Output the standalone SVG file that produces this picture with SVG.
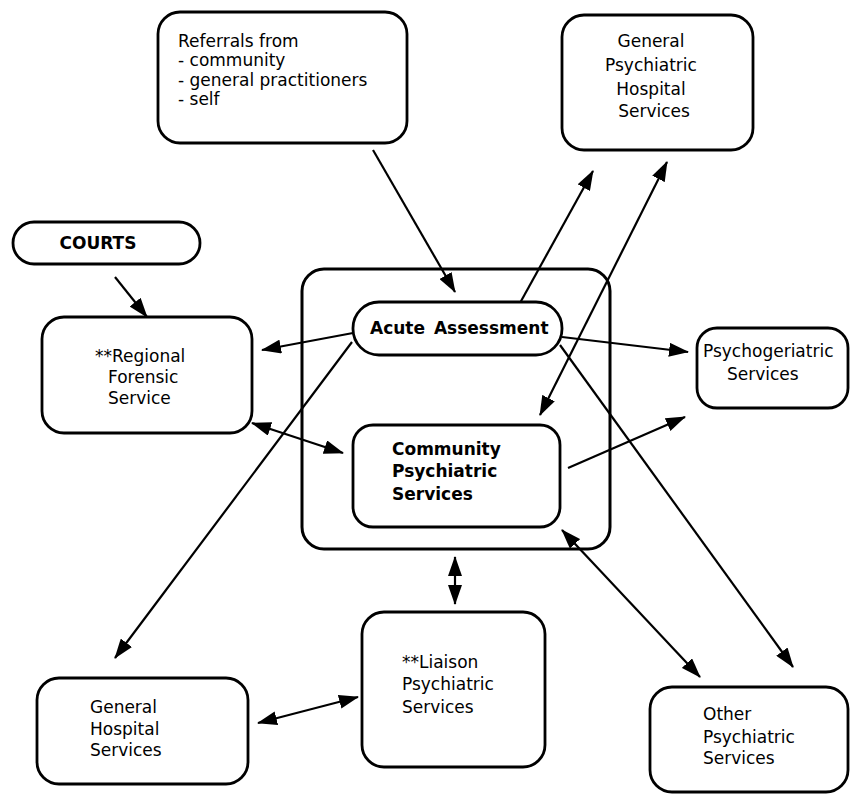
<svg xmlns="http://www.w3.org/2000/svg" width="851" height="794" viewBox="0 0 851 794">
<style>
.box{fill:#fff;stroke:#000;stroke-width:2.8}
.cont{fill:none;stroke:#000;stroke-width:3}
.t{font-family:"DejaVu Sans","Liberation Sans",sans-serif;font-size:17px;fill:#000}
.b{font-weight:bold}
.m{text-anchor:middle}
.c{fill:none;stroke:#000;stroke-width:2.2}
</style>
<defs>
<marker id="ah" markerUnits="userSpaceOnUse" markerWidth="20" markerHeight="14" refX="19" refY="7" orient="auto-start-reverse" viewBox="0 0 20 14">
<path d="M0,0 L20,7 L0,14 z" fill="#000"/>
</marker>
</defs>
<rect width="851" height="794" fill="#fff"/>
<g id="container"><rect class="cont" x="302" y="269" width="308" height="280" rx="22"/></g>
<g id="connectors">
<line class="c" x1="373" y1="150" x2="455" y2="292" marker-end="url(#ah)"/>
<line class="c" x1="520" y1="303" x2="593" y2="171" marker-end="url(#ah)"/>
<line class="c" x1="540" y1="415" x2="667" y2="162" marker-start="url(#ah)" marker-end="url(#ah)"/>
<line class="c" x1="353" y1="333" x2="262" y2="350" marker-end="url(#ah)"/>
<line class="c" x1="352" y1="342" x2="115" y2="658" marker-end="url(#ah)"/>
<line class="c" x1="252" y1="423" x2="343" y2="453" marker-start="url(#ah)" marker-end="url(#ah)"/>
<line class="c" x1="562" y1="337" x2="688" y2="352" marker-end="url(#ah)"/>
<line class="c" x1="568" y1="468" x2="685" y2="417" marker-end="url(#ah)"/>
<line class="c" x1="560" y1="345" x2="793" y2="667" marker-end="url(#ah)"/>
<line class="c" x1="562" y1="530" x2="700" y2="677" marker-start="url(#ah)" marker-end="url(#ah)"/>
<line class="c" x1="455" y1="557" x2="455" y2="604" marker-start="url(#ah)" marker-end="url(#ah)"/>
<line class="c" x1="258" y1="723" x2="358" y2="697" marker-start="url(#ah)" marker-end="url(#ah)"/>
<line class="c" x1="115" y1="277" x2="147" y2="317" marker-end="url(#ah)"/>
</g>
<g id="referrals"><rect class="box" x="158" y="12" width="249" height="131" rx="22"/>
<text class="t" x="178" y="47">Referrals from</text>
<text class="t" x="178" y="66">- community</text>
<text class="t" x="178" y="86">- general practitioners</text>
<text class="t" x="178" y="105">- self</text></g>
<g id="general-psychiatric-hospital"><rect class="box" x="562" y="15" width="191" height="135" rx="22"/>
<text class="t m" x="651" y="47">General</text>
<text class="t m" x="651" y="71">Psychiatric</text>
<text class="t m" x="651" y="95">Hospital</text>
<text class="t m" x="654" y="117">Services</text></g>
<g id="courts"><rect class="box" x="13" y="222" width="187" height="42" rx="21"/>
<text class="t m" x="98" y="249" font-weight="bold">COURTS</text></g>
<g id="regional-forensic"><rect class="box" x="42" y="317" width="210" height="116" rx="22"/>
<text class="t" x="95" y="362">**Regional</text>
<text class="t" x="108" y="383">Forensic</text>
<text class="t" x="108" y="404">Service</text></g>
<g id="acute-assessment"><rect class="box" x="353" y="302" width="209" height="53" rx="26"/>
<text class="t b" x="370" y="334" word-spacing="3">Acute Assessment</text></g>
<g id="community-psychiatric"><rect class="box" x="353" y="425" width="207" height="102" rx="20"/>
<text class="t b" x="392" y="455">Community</text>
<text class="t b" x="392" y="477">Psychiatric</text>
<text class="t b" x="392" y="500">Services</text></g>
<g id="psychogeriatric"><rect class="box" x="697" y="328" width="151" height="80" rx="20"/>
<text class="t" x="703" y="357">Psychogeriatric</text>
<text class="t" x="727" y="380">Services</text></g>
<g id="general-hospital"><rect class="box" x="37" y="678" width="211" height="106" rx="22"/>
<text class="t" x="90" y="713">General</text>
<text class="t" x="90" y="735">Hospital</text>
<text class="t" x="90" y="756">Services</text></g>
<g id="liaison-psychiatric"><rect class="box" x="362" y="612" width="183" height="155" rx="22"/>
<text class="t" x="402" y="668">**Liaison</text>
<text class="t" x="402" y="690">Psychiatric</text>
<text class="t" x="402" y="713">Services</text></g>
<g id="other-psychiatric"><rect class="box" x="650" y="687" width="198" height="105" rx="22"/>
<text class="t" x="703" y="720">Other</text>
<text class="t" x="703" y="743">Psychiatric</text>
<text class="t" x="703" y="764">Services</text></g>
</svg>
